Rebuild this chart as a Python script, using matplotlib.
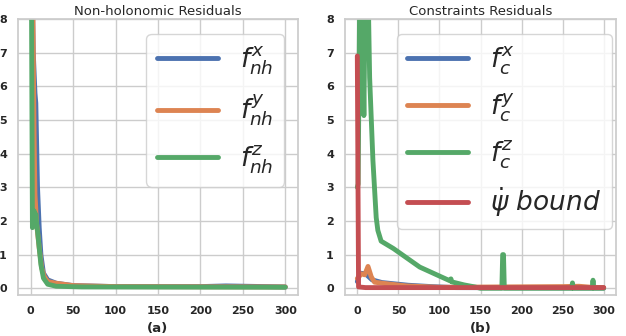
import numpy as np
import matplotlib.pyplot as plt
import seaborn as sns

sns.set_theme(style="whitegrid")

# (a) non-holonomic residuals
nh_x_t = [0, 1, 3, 5, 6, 8, 10, 12, 15, 20, 30, 50, 100, 200, 230, 300]
nh_x_v = [15, 10, 7, 5.8, 5.5, 3.0, 1.8, 1.0, 0.45, 0.25, 0.15, 0.08, 0.05, 0.05, 0.07, 0.04]
nh_y_t = [0, 1, 2, 3, 4, 5, 7, 10, 13, 16, 20, 30, 50, 100, 300]
nh_y_v = [20, 15, 10, 7, 4.5, 2.8, 1.9, 1.2, 0.6, 0.35, 0.2, 0.15, 0.08, 0.05, 0.04]
nh_z_t = [0, 1, 2, 3, 4, 5, 6, 7, 8, 10, 12, 15, 20, 30, 60, 300]
nh_z_v = [20, 8, 1.8, 2.1, 2.3, 2.0, 2.2, 1.9, 1.7, 1.2, 0.7, 0.3, 0.12, 0.06, 0.04, 0.03]

# (b) constraints residuals
c_x_t = [0, 3, 10, 18, 30, 62, 90, 120, 300]
c_x_v = [0.2, 0.45, 0.43, 0.25, 0.17, 0.09, 0.05, 0.02, 0.01]
c_y_t = [0, 5, 9, 13, 17, 21, 34, 60, 100, 250, 270, 285, 300]
c_y_v = [0.29, 0.43, 0.4, 0.65, 0.34, 0.18, 0.14, 0.07, 0.03, 0.05, 0.06, 0.03, 0.02]
c_z_t = [0, 1, 4, 8, 11, 15, 19, 23, 25, 29, 44, 76, 103, 113, 114, 115, 130, 143, 150,
         176, 177, 178, 179, 261, 262, 263, 286, 287, 288, 300]
c_z_v = [3.0, 3.1, 12, 5.13, 12, 6.26, 3.8, 2.1, 1.72, 1.4, 1.18, 0.63, 0.33, 0.22, 0.28, 0.19,
         0.1, 0.04, 0.0, 0.0, 1.0, 1.0, 0.0, 0.0, 0.16, 0.0, 0.0, 0.24, 0.0, 0.0]
psi_t = [0, 1.5, 10, 100, 300]
psi_v = [6.9, 0.04, 0.02, 0.02, 0.02]

fig = plt.figure(figsize=(6.26, 3.36), dpi=100)
ax1 = fig.add_axes([18 / 626, 41 / 336, 280 / 626, 276 / 336])
ax2 = fig.add_axes([345 / 626, 41 / 336, 271 / 626, 276 / 336])

lw = 3.5
ax1.plot(nh_x_t, nh_x_v, lw=lw, label=r"$f^x_{nh}$")
ax1.plot(nh_y_t, nh_y_v, lw=lw, label=r"$f^y_{nh}$")
ax1.plot(nh_z_t, nh_z_v, lw=lw, label=r"$f^z_{nh}$")

ax2.plot(c_x_t, c_x_v, lw=lw, label=r"$f^x_c$")
ax2.plot(c_y_t, c_y_v, lw=lw, label=r"$f^y_c$")
ax2.plot(c_z_t, c_z_v, lw=lw, label=r"$f^z_c$")
ax2.plot(psi_t, psi_v, lw=lw, label=r"$\dot{\psi}\ bound$")

for ax, title, lab in [(ax1, "Non-holonomic Residuals", "(a)"), (ax2, "Constraints Residuals", "(b)")]:
    ax.set_ylim(-0.2, 8)
    ax.set_xticks([0, 50, 100, 150, 200, 250, 300])
    ax.set_title(title, fontsize=9.5, pad=3)
    ax.set_xlabel(lab, fontsize=9.5, fontweight="bold", labelpad=4)
    ax.tick_params(labelsize=8, length=0, pad=8)
    for t in ax.get_xticklabels() + ax.get_yticklabels():
        t.set_fontweight("bold")

ax1.legend(loc="upper right", bbox_to_anchor=(0.95, 0.946), borderaxespad=0, fontsize=19,
           handlelength=2.3, handletextpad=0.85, labelspacing=0.58)
ax2.legend(loc="upper right", bbox_to_anchor=(0.985, 0.946), borderaxespad=0, fontsize=19,
           handlelength=2.3, handletextpad=0.85, labelspacing=0.55)

fig.savefig("out.png", dpi=100)
